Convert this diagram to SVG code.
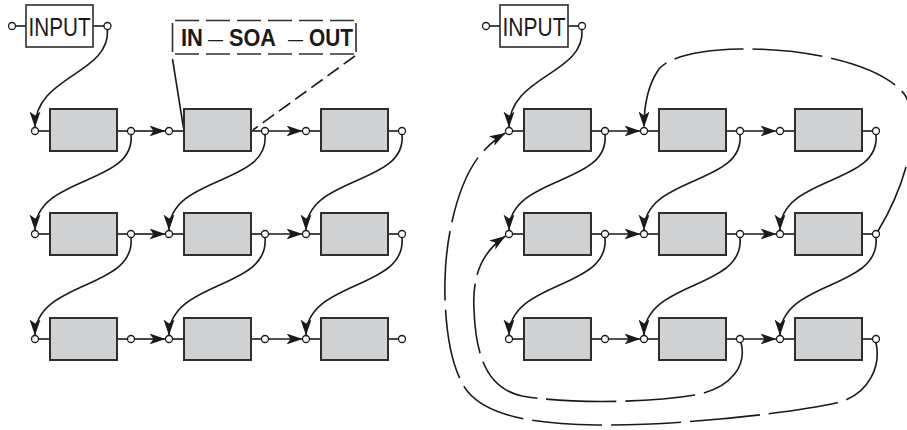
<svg xmlns="http://www.w3.org/2000/svg" width="907" height="430" viewBox="0 0 907 430">
<defs>
<marker id="ah" markerUnits="userSpaceOnUse" markerWidth="18" markerHeight="12" refX="16" refY="5.5" orient="auto">
<path d="M0,0 L16,5.5 L0,11 L4,5.5 Z" fill="#1a1a1a"/>
</marker>
<style>
.box{fill:#d0d1d3;stroke:#2e2e2e;stroke-width:2}
.port{fill:#fff;stroke:#1a1a1a;stroke-width:1.3}
.stub{stroke:#1a1a1a;stroke-width:1.6;fill:none}
.c{fill:none;stroke:#1a1a1a;stroke-width:1.6}
.a{marker-end:url(#ah)}
.d{stroke-dasharray:70 9}
.ib{fill:#fff;stroke:#2e2e2e;stroke-width:1.6}
.t{font-family:"Liberation Sans",Arial,sans-serif;fill:#1a1a1a}
</style>
</defs>
<rect width="907" height="430" fill="#fff"/>

<g id="connectors">
<!-- left grid -->
<path class="c a" d="M107.5,29.5 C110,75 35,75 35,127.5"/>
<path class="c a" d="M134.5,131 L165.5,131"/>
<path class="c a" d="M268.5,131 L302.5,131"/>
<path class="c a" d="M134.5,234 L165.5,234"/>
<path class="c a" d="M268.5,234 L302.5,234"/>
<path class="c a" d="M134.5,339 L165.5,339"/>
<path class="c a" d="M268.5,339 L302.5,339"/>
<path class="c a" d="M131,134.5 C136,186 35,175 35,230.5"/>
<path class="c a" d="M265,134.5 C270,186 169,175 169,230.5"/>
<path class="c a" d="M402,134.5 C407,186 306,175 306,230.5"/>
<path class="c a" d="M131,237.5 C136,290 35,280 35,335.5"/>
<path class="c a" d="M265,237.5 C270,290 169,280 169,335.5"/>
<path class="c a" d="M402,237.5 C407,290 306,280 306,335.5"/>
<path class="c" d="M172.5,59 L183.5,128"/>
<path class="c" style="stroke-dasharray:14 6" d="M355,56 L253,130"/>
<!-- right grid -->
<path class="c a" d="M582,29.5 C585,75 509,75 509,127.5"/>
<path class="c a" d="M608.5,131 L640.5,131"/>
<path class="c a" d="M743.5,131 L776.5,131"/>
<path class="c a" d="M608.5,234 L640.5,234"/>
<path class="c a" d="M743.5,234 L776.5,234"/>
<path class="c a" d="M608.5,339 L640.5,339"/>
<path class="c a" d="M743.5,339 L776.5,339"/>
<path class="c a" d="M605,134.5 C610,186 509,175 509,230.5"/>
<path class="c a" d="M740,134.5 C745,186 644,175 644,230.5"/>
<path class="c a" d="M876,134.5 C881,186 780,175 780,230.5"/>
<path class="c a" d="M605,237.5 C610,290 509,280 509,335.5"/>
<path class="c a" d="M740,237.5 C745,290 644,280 644,335.5"/>
<path class="c a" d="M876,237.5 C881,290 780,280 780,335.5"/>
<path class="c a d" d="M878,231 C900,195 925,130 905,95 C880,62 800,48 740,49 C695,50 665,58 657,72 C647,88 644,105 644,127.5"/>
<path class="c a d" d="M741,342.5 C748,370 725,390 695,395 C640,404 560,403 522,396 C490,389 476,362 474,310 C472,275 482,252 505.5,236"/>
<path class="c a d" d="M876,342.5 C882,370 865,395 840,402 C800,412 680,426 597,425 C540,424 490,418 468,392 C450,370 444,320 445,280 C446,230 460,180 480,155 C488,146 495,139 505.5,133"/>
</g>

<g id="input-left">
<line class="stub" x1="15.5" y1="26" x2="26" y2="26"/>
<line class="stub" x1="93" y1="26" x2="104" y2="26"/>
<circle class="port" cx="12" cy="26" r="3.5"/>
<circle class="port" cx="107.5" cy="26" r="3.5"/>
<rect class="ib" x="26" y="5" width="67" height="42"/>
<text class="t" x="28.5" y="35.5" font-size="26.5" textLength="62" lengthAdjust="spacingAndGlyphs">INPUT</text>
</g>

<g id="input-right">
<line class="stub" x1="489.5" y1="26" x2="500" y2="26"/>
<line class="stub" x1="568" y1="26" x2="578.5" y2="26"/>
<circle class="port" cx="486" cy="26" r="3.5"/>
<circle class="port" cx="582" cy="26" r="3.5"/>
<rect class="ib" x="500" y="5" width="68" height="42"/>
<text class="t" x="502.5" y="35.5" font-size="26.5" textLength="63" lengthAdjust="spacingAndGlyphs">INPUT</text>
</g>

<g id="soa-callout">
<line x1="172" y1="20.5" x2="356" y2="20.5" stroke="#2e2e2e" stroke-width="1.6" stroke-dasharray="24 7" stroke-dashoffset="-3"/>
<line x1="172" y1="54" x2="356" y2="54" stroke="#2e2e2e" stroke-width="1.6" stroke-dasharray="24 7" stroke-dashoffset="-3"/>
<line x1="172.5" y1="23" x2="172.5" y2="52" stroke="#2e2e2e" stroke-width="1.6"/>
<line x1="356" y1="23" x2="356" y2="52" stroke="#2e2e2e" stroke-width="1.6"/>
<text class="t" x="181" y="46" font-size="23" font-weight="bold" textLength="22" lengthAdjust="spacingAndGlyphs">IN</text>
<text class="t" x="208" y="46" font-size="21" textLength="15" lengthAdjust="spacingAndGlyphs">—</text>
<text class="t" x="229" y="46" font-size="23" font-weight="bold" textLength="47" lengthAdjust="spacingAndGlyphs">SOA</text>
<text class="t" x="288" y="46" font-size="21" textLength="15" lengthAdjust="spacingAndGlyphs">—</text>
<text class="t" x="309" y="46" font-size="23" font-weight="bold" textLength="44" lengthAdjust="spacingAndGlyphs">OUT</text>
</g>

<!-- left grid nodes -->
<g id="L11"><line class="stub" x1="38.5" y1="131" x2="50" y2="131"/><line class="stub" x1="117" y1="131" x2="127.5" y2="131"/><rect class="box" x="50" y="109" width="67" height="42"/><circle class="port" cx="35" cy="131" r="3.5"/><circle class="port" cx="131" cy="131" r="3.5"/></g>
<g id="L12"><line class="stub" x1="172.5" y1="131" x2="184" y2="131"/><line class="stub" x1="251" y1="131" x2="261.5" y2="131"/><rect class="box" x="184" y="109" width="67" height="42"/><circle class="port" cx="169" cy="131" r="3.5"/><circle class="port" cx="265" cy="131" r="3.5"/></g>
<g id="L13"><line class="stub" x1="309.5" y1="131" x2="321" y2="131"/><line class="stub" x1="388" y1="131" x2="398.5" y2="131"/><rect class="box" x="321" y="109" width="67" height="42"/><circle class="port" cx="306" cy="131" r="3.5"/><circle class="port" cx="402" cy="131" r="3.5"/></g>
<g id="L21"><line class="stub" x1="38.5" y1="234" x2="50" y2="234"/><line class="stub" x1="117" y1="234" x2="127.5" y2="234"/><rect class="box" x="50" y="213" width="67" height="42"/><circle class="port" cx="35" cy="234" r="3.5"/><circle class="port" cx="131" cy="234" r="3.5"/></g>
<g id="L22"><line class="stub" x1="172.5" y1="234" x2="184" y2="234"/><line class="stub" x1="251" y1="234" x2="261.5" y2="234"/><rect class="box" x="184" y="213" width="67" height="42"/><circle class="port" cx="169" cy="234" r="3.5"/><circle class="port" cx="265" cy="234" r="3.5"/></g>
<g id="L23"><line class="stub" x1="309.5" y1="234" x2="321" y2="234"/><line class="stub" x1="388" y1="234" x2="398.5" y2="234"/><rect class="box" x="321" y="213" width="67" height="42"/><circle class="port" cx="306" cy="234" r="3.5"/><circle class="port" cx="402" cy="234" r="3.5"/></g>
<g id="L31"><line class="stub" x1="38.5" y1="339" x2="50" y2="339"/><line class="stub" x1="117" y1="339" x2="127.5" y2="339"/><rect class="box" x="50" y="318" width="67" height="42"/><circle class="port" cx="35" cy="339" r="3.5"/><circle class="port" cx="131" cy="339" r="3.5"/></g>
<g id="L32"><line class="stub" x1="172.5" y1="339" x2="184" y2="339"/><line class="stub" x1="251" y1="339" x2="261.5" y2="339"/><rect class="box" x="184" y="318" width="67" height="42"/><circle class="port" cx="169" cy="339" r="3.5"/><circle class="port" cx="265" cy="339" r="3.5"/></g>
<g id="L33"><line class="stub" x1="309.5" y1="339" x2="321" y2="339"/><line class="stub" x1="388" y1="339" x2="398.5" y2="339"/><rect class="box" x="321" y="318" width="67" height="42"/><circle class="port" cx="306" cy="339" r="3.5"/><circle class="port" cx="402" cy="339" r="3.5"/></g>

<!-- right grid nodes -->
<g id="R11"><line class="stub" x1="512.5" y1="131" x2="524" y2="131"/><line class="stub" x1="591" y1="131" x2="601.5" y2="131"/><rect class="box" x="524" y="109" width="67" height="42"/><circle class="port" cx="509" cy="131" r="3.5"/><circle class="port" cx="605" cy="131" r="3.5"/></g>
<g id="R12"><line class="stub" x1="647.5" y1="131" x2="659" y2="131"/><line class="stub" x1="726" y1="131" x2="736.5" y2="131"/><rect class="box" x="659" y="109" width="67" height="42"/><circle class="port" cx="644" cy="131" r="3.5"/><circle class="port" cx="740" cy="131" r="3.5"/></g>
<g id="R13"><line class="stub" x1="783.5" y1="131" x2="795" y2="131"/><line class="stub" x1="862" y1="131" x2="872.5" y2="131"/><rect class="box" x="795" y="109" width="67" height="42"/><circle class="port" cx="780" cy="131" r="3.5"/><circle class="port" cx="876" cy="131" r="3.5"/></g>
<g id="R21"><line class="stub" x1="512.5" y1="234" x2="524" y2="234"/><line class="stub" x1="591" y1="234" x2="601.5" y2="234"/><rect class="box" x="524" y="213" width="67" height="42"/><circle class="port" cx="509" cy="234" r="3.5"/><circle class="port" cx="605" cy="234" r="3.5"/></g>
<g id="R22"><line class="stub" x1="647.5" y1="234" x2="659" y2="234"/><line class="stub" x1="726" y1="234" x2="736.5" y2="234"/><rect class="box" x="659" y="213" width="67" height="42"/><circle class="port" cx="644" cy="234" r="3.5"/><circle class="port" cx="740" cy="234" r="3.5"/></g>
<g id="R23"><line class="stub" x1="783.5" y1="234" x2="795" y2="234"/><line class="stub" x1="862" y1="234" x2="872.5" y2="234"/><rect class="box" x="795" y="213" width="67" height="42"/><circle class="port" cx="780" cy="234" r="3.5"/><circle class="port" cx="876" cy="234" r="3.5"/></g>
<g id="R31"><line class="stub" x1="512.5" y1="339" x2="524" y2="339"/><line class="stub" x1="591" y1="339" x2="601.5" y2="339"/><rect class="box" x="524" y="318" width="67" height="42"/><circle class="port" cx="509" cy="339" r="3.5"/><circle class="port" cx="605" cy="339" r="3.5"/></g>
<g id="R32"><line class="stub" x1="647.5" y1="339" x2="659" y2="339"/><line class="stub" x1="726" y1="339" x2="736.5" y2="339"/><rect class="box" x="659" y="318" width="67" height="42"/><circle class="port" cx="644" cy="339" r="3.5"/><circle class="port" cx="740" cy="339" r="3.5"/></g>
<g id="R33"><line class="stub" x1="783.5" y1="339" x2="795" y2="339"/><line class="stub" x1="862" y1="339" x2="872.5" y2="339"/><rect class="box" x="795" y="318" width="67" height="42"/><circle class="port" cx="780" cy="339" r="3.5"/><circle class="port" cx="876" cy="339" r="3.5"/></g>
</svg>
